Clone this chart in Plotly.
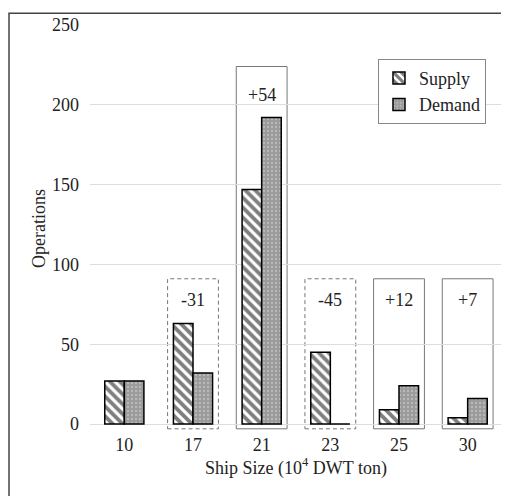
import plotly.graph_objects as go

categories = ["10", "17", "21", "23", "25", "30"]
supply = [27, 63, 147, 45, 9, 4]
demand = [27, 32, 192, 0, 24, 16]
diff_labels = ["", "-31", "+54", "-45", "+12", "+7"]
box_tops = [None, 91, 224, 91, 91, 91]
box_dashed = [None, True, False, True, False, False]
label_y = [None, 78, 206, 78, 78, 78]

FONT = "Liberation Serif"
FS = 18
pos = list(range(len(categories)))

fig = go.Figure()
fig.add_trace(go.Bar(
    x=pos, y=supply, name="Supply",
    marker=dict(color="white", line=dict(color="black", width=1.5),
                pattern=dict(shape="\\", fgcolor="black", bgcolor="white", size=7, solidity=0.55)),
))
fig.add_trace(go.Bar(
    x=pos, y=demand, name="Demand",
    marker=dict(color="#9a9a9a", line=dict(color="black", width=1.5),
                pattern=dict(shape=".", fgcolor="#d6d6d6", bgcolor="#9a9a9a", size=4, solidity=0.3)),
))

shapes = []
annotations = []
for i, top in enumerate(box_tops):
    if top is None:
        continue
    shapes.append(dict(type="rect", xref="x", yref="y", x0=pos[i] - 0.37, x1=pos[i] + 0.37, y0=-3, y1=top,
                       line=dict(color="#777777", width=1, dash="4px,3px" if box_dashed[i] else "solid"),
                       fillcolor="rgba(0,0,0,0)", layer="below"))
    annotations.append(dict(x=pos[i], y=label_y[i], xref="x", yref="y", text=diff_labels[i],
                            showarrow=False, font=dict(family=FONT, size=FS, color="#222")))

# outer border
shapes.append(dict(type="rect", xref="paper", yref="paper", x0=-0.1966, x1=1.2, y0=-0.4, y1=1.029,
                   line=dict(color="#444444", width=1.5), fillcolor="rgba(0,0,0,0)"))

fig.update_layout(
    width=501, height=488,
    margin=dict(l=82, r=7, t=13, b=64),
    paper_bgcolor="white", plot_bgcolor="white",
    barmode="group", bargap=0.43, bargroupgap=0,
    font=dict(family=FONT, size=FS, color="#222"),
    shapes=shapes, annotations=annotations,
    legend=dict(x=0.699, y=0.917, xanchor="left", yanchor="top",
                bordercolor="#888888", borderwidth=1, bgcolor="white",
                font=dict(family=FONT, size=FS, color="#222"), tracegroupgap=0,
                itemwidth=30),
    xaxis=dict(range=[-0.5, 5.5], tickvals=pos, ticktext=categories, showgrid=False,
               zeroline=False, showline=False, ticks="", tickfont=dict(size=FS),
               title=dict(text="Ship Size (10<sup>4</sup> DWT ton)", font=dict(size=FS), standoff=4)),
    yaxis=dict(range=[-5, 250], tickvals=[0, 50, 100, 150, 200, 250], showgrid=True,
               gridcolor="#dddddd", zeroline=False, showline=False, ticks="",
               tickfont=dict(size=FS), ticklabelstandoff=10,
               title=dict(text="Operations", font=dict(size=FS), standoff=1)),
)

fig.write_html("out.html")
